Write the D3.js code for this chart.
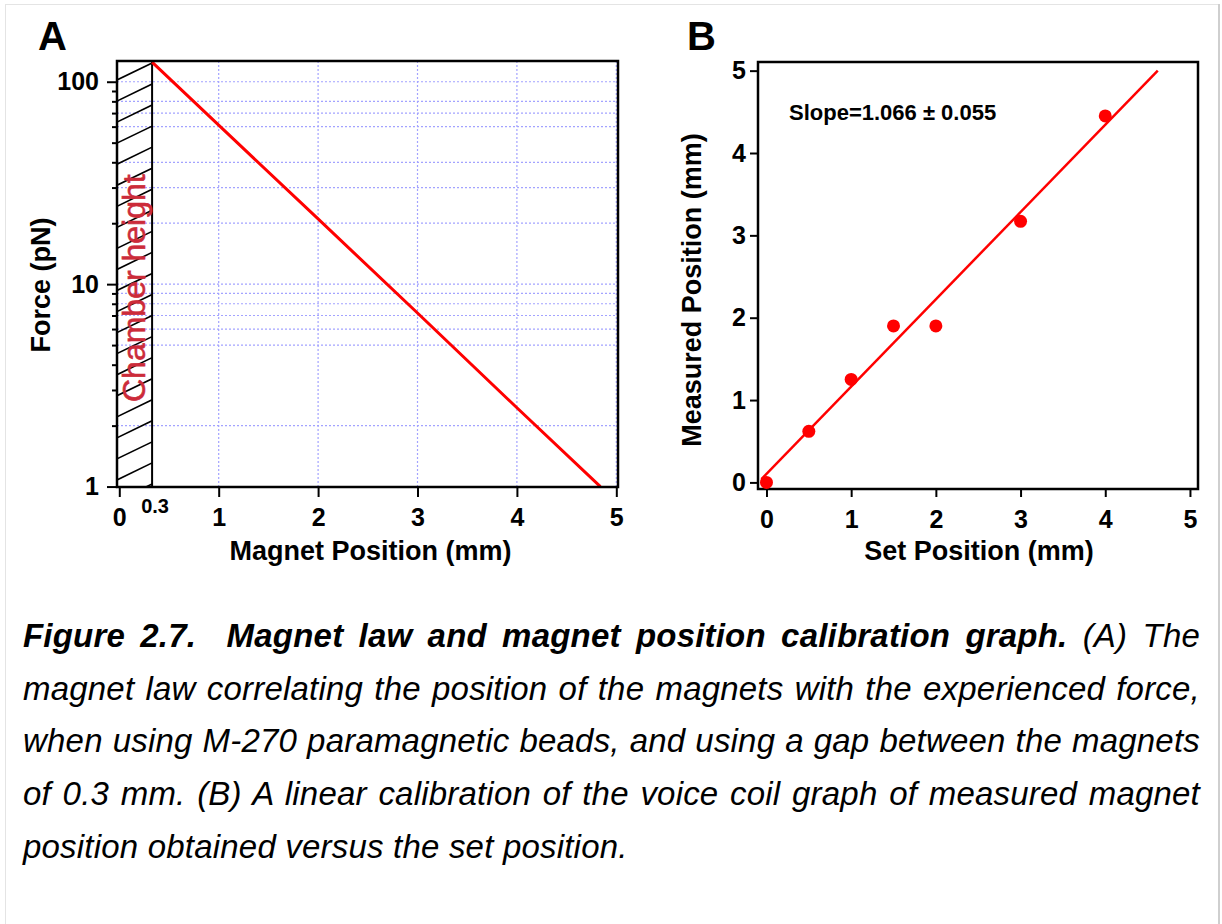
<!DOCTYPE html>
<html><head><meta charset="utf-8">
<script src="https://cdn.jsdelivr.net/npm/d3@7"></script>
<style>
html,body{margin:0;padding:0;background:#fff;}
svg{display:block;}
text{font-family:"Liberation Sans",Arial,Helvetica,sans-serif;}
</style></head><body>
<svg id="fig" width="1222" height="924"></svg>
<script>
// ---------- Panel A data ----------
const magnetPos = [0.33, 1, 2, 3, 4, 4.84];
const forcePN = [125, 61, 21, 7.2, 2.45, 1.0];
const chamberHeight = 0.33;
const chamberTickLabel = "0.3";
const chamberLabel = "Chamber height";
const forceMajorTicks = [1, 10, 100];
const forceMinorTicks = [2, 3, 4, 5, 6, 7, 8, 9, 20, 30, 40, 50, 60, 70, 80, 90];
const forceGridValues = [1, 2, 5, 6, 7, 8, 9, 10, 20, 30, 40, 60, 70, 80, 100];
const magnetTicks = [0, 1, 2, 3, 4, 5];
const magnetGridValues = [1, 2, 3, 4, 5];
const xTitleA = "Magnet Position (mm)";
const yTitleA = "Force (pN)";
// ---------- Panel B data ----------
const setPos = [0, 0.5, 1, 1.5, 2, 3, 4];
const measuredPos = [0, 0.62, 1.25, 1.9, 1.9, 3.17, 4.45];
const fitSet = [-0.06, 4.62];
const fitMeasured = [0.04, 5.0];
const setTicks = [0, 1, 2, 3, 4, 5];
const measuredTicks = [0, 1, 2, 3, 4, 5];
const slopeText = "Slope=1.066 \u00B1 0.055";
const xTitleB = "Set Position (mm)";
const yTitleB = "Measured Position (mm)";
// ---------- Caption ----------
const captionLines = [
  [{t: "Figure 2.7.  Magnet law and magnet position calibration graph.", b: true}, {t: " (A) The", b: false}],
  [{t: "magnet law correlating the position of the magnets with the experienced force,", b: false}],
  [{t: "when using M-270 paramagnetic beads, and using a gap between the magnets", b: false}],
  [{t: "of 0.3 mm. (B) A linear calibration of the voice coil graph of measured magnet", b: false}],
  [{t: "position obtained versus the set position.", b: false}]
];

const svg = d3.select("#fig");
const FONT = '"Liberation Sans",Arial,Helvetica,sans-serif';

// page border
svg.append("rect").attr("x", 5.5).attr("y", 4.5).attr("width", 1213).attr("height", 940)
  .attr("fill", "#fff").attr("stroke", "#e4e4e4").attr("stroke-width", 1);
svg.append("line").attr("x1", 1219).attr("x2", 1219).attr("y1", 4).attr("y2", 924)
  .attr("stroke", "#cfcfcf").attr("stroke-width", 2);

function styleAxis(g, size) {
  g.attr("font-family", FONT).attr("font-size", size).attr("font-weight", "bold");
  g.select(".domain").remove();
  g.selectAll(".tick line").attr("stroke", "#000").attr("stroke-width", 2);
  g.selectAll(".tick text").attr("fill", "#000");
}

// ================= Panel A =================
const xA = d3.scaleLinear().domain([-0.023, 5.017]).range([117, 618]);
const yA = d3.scaleLog().domain([0.995, 126.6]).range([487, 61]);
const [ax0, ax1] = xA.range();
const [ay1, ay0] = yA.range();
const gA = svg.append("g");

// grid
const gridColor = "#a3a3ff";
gA.append("g").selectAll("line").data(forceGridValues).join("line")
  .attr("x1", ax0).attr("x2", ax1).attr("y1", d => yA(d)).attr("y2", d => yA(d))
  .attr("stroke", gridColor).attr("stroke-width", 1.2).attr("stroke-dasharray", "2,2");
gA.append("g").selectAll("line").data(magnetGridValues).join("line")
  .attr("y1", ay0).attr("y2", ay1).attr("x1", d => xA(d)).attr("x2", d => xA(d))
  .attr("stroke", gridColor).attr("stroke-width", 1.2).attr("stroke-dasharray", "2,2");

// hatched chamber region
const wallX = xA(chamberHeight);
svg.append("clipPath").attr("id", "hatchClip").append("rect")
  .attr("x", ax0).attr("y", ay0).attr("width", wallX - ax0).attr("height", ay1 - ay0);
const hatch = gA.append("g").attr("clip-path", "url(#hatchClip)");
const hatchRise = 17 / 35;
d3.range(-1, 22).forEach(i => {
  const yl = 80 + i * 21.05;
  hatch.append("line").attr("x1", ax0).attr("y1", yl)
    .attr("x2", wallX).attr("y2", yl - (wallX - ax0) * hatchRise)
    .attr("stroke", "#000").attr("stroke-width", 1.6);
});
gA.append("line").attr("x1", wallX).attr("x2", wallX).attr("y1", ay0).attr("y2", ay1)
  .attr("stroke", "#000").attr("stroke-width", 2);

// chamber label
gA.append("text").attr("transform", `translate(145,402) rotate(-90)`)
  .attr("font-size", 32).attr("fill", "#cc2b3a").attr("stroke", "#cc2b3a").attr("stroke-width", 0.6)
  .text(chamberLabel);

// red magnet-law line
const lineA = d3.line().x(d => xA(d[0])).y(d => yA(d[1]));
gA.append("path").datum(d3.zip(magnetPos, forcePN)).attr("d", lineA)
  .attr("fill", "none").attr("stroke", "#ff0000").attr("stroke-width", 3);

// frame
gA.append("rect").attr("x", ax0).attr("y", ay0).attr("width", ax1 - ax0).attr("height", ay1 - ay0)
  .attr("fill", "none").attr("stroke", "#000").attr("stroke-width", 2.5);

// axes
gA.append("g").attr("transform", `translate(${ax0},0)`)
  .call(d3.axisLeft(yA).tickValues(forceMajorTicks).tickFormat(d3.format("d")).tickSize(10).tickPadding(8))
  .call(g => styleAxis(g, 25));
gA.append("g").attr("transform", `translate(${ax0},0)`)
  .call(d3.axisLeft(yA).tickValues(forceMinorTicks).tickFormat("").tickSize(5))
  .call(g => styleAxis(g, 25));
gA.append("g").attr("transform", `translate(0,${ay1})`)
  .call(d3.axisBottom(xA).tickValues(magnetTicks).tickFormat(d3.format("d")).tickSize(10).tickPadding(11))
  .call(g => styleAxis(g, 25));
gA.append("text").attr("x", wallX + 3).attr("y", 513).attr("text-anchor", "middle")
  .attr("font-size", 20).attr("font-weight", "bold").text(chamberTickLabel);

// titles
gA.append("text").attr("x", (ax0 + ax1) / 2 + 3).attr("y", 560).attr("text-anchor", "middle")
  .attr("font-size", 27).attr("font-weight", "bold").text(xTitleA);
gA.append("text").attr("transform", "translate(50,285) rotate(-90)").attr("text-anchor", "middle")
  .attr("font-size", 27).attr("font-weight", "bold").text(yTitleA);
svg.append("text").attr("x", 38).attr("y", 50).attr("font-size", 40).attr("font-weight", "bold").text("A");

// ================= Panel B =================
const xB = d3.scaleLinear().domain([-0.1, 5.095]).range([758, 1198]);
const yB = d3.scaleLinear().domain([-0.08, 5.105]).range([489, 62]);
const [bx0, bx1] = xB.range();
const [by1, by0] = yB.range();
const gB = svg.append("g");

gB.append("rect").attr("x", bx0).attr("y", by0).attr("width", bx1 - bx0).attr("height", by1 - by0)
  .attr("fill", "none").attr("stroke", "#000").attr("stroke-width", 2.5);

gB.append("g").attr("transform", `translate(${bx0},0)`)
  .call(d3.axisLeft(yB).tickValues(measuredTicks).tickFormat(d3.format("d")).tickSize(8).tickPadding(4))
  .call(g => styleAxis(g, 25));
gB.append("g").attr("transform", `translate(0,${by1})`)
  .call(d3.axisBottom(xB).tickValues(setTicks).tickFormat(d3.format("d")).tickSize(8).tickPadding(13))
  .call(g => styleAxis(g, 25));

// fit line
gB.append("line")
  .attr("x1", xB(fitSet[0])).attr("y1", yB(fitMeasured[0]))
  .attr("x2", xB(fitSet[1])).attr("y2", yB(fitMeasured[1]))
  .attr("stroke", "#ff0000").attr("stroke-width", 2.5);

// points
gB.append("g").selectAll("circle").data(d3.zip(setPos, measuredPos)).join("circle")
  .attr("cx", d => xB(d[0])).attr("cy", d => yB(d[1])).attr("r", 6.5).attr("fill", "#ff0000");

gB.append("text").attr("x", 789).attr("y", 120).attr("font-size", 22).attr("font-weight", "bold").text(slopeText);

gB.append("text").attr("x", (bx0 + bx1) / 2 + 1).attr("y", 560).attr("text-anchor", "middle")
  .attr("font-size", 27).attr("font-weight", "bold").text(xTitleB);
gB.append("text").attr("transform", "translate(701,290) rotate(-90)").attr("text-anchor", "middle")
  .attr("font-size", 27).attr("font-weight", "bold").text(yTitleB);
svg.append("text").attr("x", 687).attr("y", 50).attr("font-size", 40).attr("font-weight", "bold").text("B");

// ================= Caption =================
const capX0 = 23, capX1 = 1200;
const capBaselines = [647, 700, 752, 805, 858];
captionLines.forEach((segs, i) => {
  const t = svg.append("text").attr("x", capX0).attr("y", capBaselines[i])
    .attr("font-size", 33).attr("font-style", "italic").attr("letter-spacing", 0.2)
    .style("white-space", "pre").attr("fill", "#000");
  segs.forEach(s => t.append("tspan").attr("font-weight", s.b ? "bold" : "normal").text(s.t));
  if (i < captionLines.length - 1) {
    const natural = t.node().getComputedTextLength();
    const full = segs.map(s => s.t).join("");
    const nSp = (full.match(/ /g) || []).length;
    t.attr("word-spacing", (capX1 - capX0 - natural) / nSp);
  }
});
</script>
</body></html>
